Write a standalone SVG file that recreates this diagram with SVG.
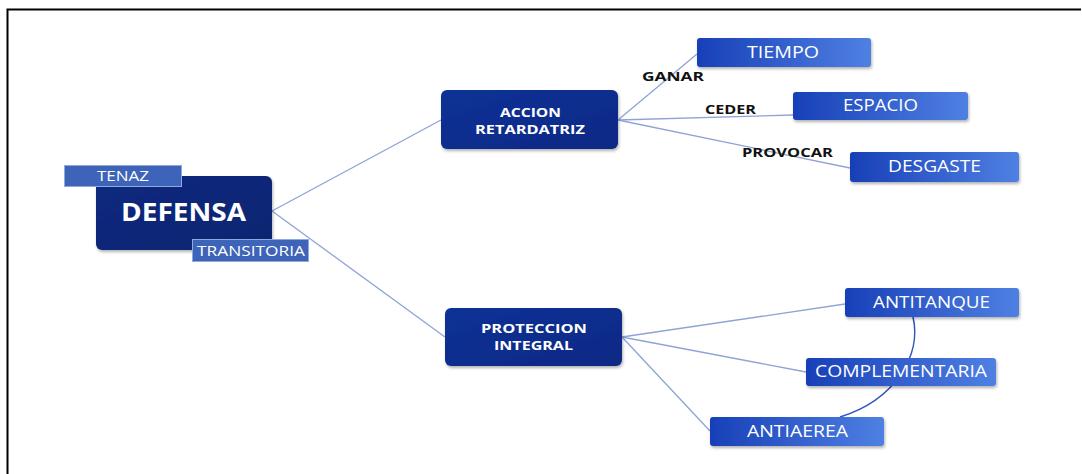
<svg xmlns="http://www.w3.org/2000/svg" width="1082" height="474" viewBox="0 0 1082 474">
<defs>
<linearGradient id="gLeaf" x1="0" y1="0" x2="1" y2="0">
<stop offset="0" stop-color="#1840b8"/>
<stop offset="1" stop-color="#4f80e2"/>
</linearGradient>
<linearGradient id="gMain" x1="0" y1="0" x2="1" y2="1">
<stop offset="0" stop-color="#0e3196"/>
<stop offset="1" stop-color="#0a2a85"/>
</linearGradient>
<linearGradient id="gRoot" x1="0" y1="0" x2="1" y2="1">
<stop offset="0" stop-color="#0c2a80"/>
<stop offset="1" stop-color="#0a2470"/>
</linearGradient>
<filter id="sh" x="-10%" y="-20%" width="130%" height="150%">
<feDropShadow dx="1" dy="2" stdDeviation="1.5" flood-color="#000" flood-opacity="0.3"/>
</filter>
</defs>
<style>
.leaf{fill:url(#gLeaf);filter:url(#sh)}
.main{fill:url(#gMain);filter:url(#sh)}
.tag{fill:#3d64b8;stroke:#8fa9dc;stroke-width:1}
.lt{font-family:"Open Sans","Liberation Sans",sans-serif;font-size:15.5px;font-weight:500;fill:#fff}
.mt{font-family:"Open Sans","Liberation Sans",sans-serif;font-size:12px;font-weight:bold;fill:#fff}
.lab{font-family:"Open Sans","Liberation Sans",sans-serif;font-size:12.5px;font-weight:bold;fill:#111}
.con{stroke:#8ea3d6;stroke-width:1.3;fill:none}
</style>
<rect x="0" y="0" width="1082" height="474" fill="#fff"/>
<path d="M7.5 474 V9.5 H1081" fill="none" stroke="#000" stroke-width="2"/>
<g id="connectors">
<line class="con" x1="272" y1="211" x2="441" y2="120"/>
<line class="con" x1="272" y1="211" x2="445" y2="337"/>
<line class="con" x1="618" y1="120" x2="697" y2="54"/>
<line class="con" x1="618" y1="120" x2="793" y2="115"/>
<line class="con" x1="618" y1="120" x2="850" y2="168"/>
<line class="con" x1="622" y1="337" x2="845" y2="304"/>
<line class="con" x1="622" y1="337" x2="806" y2="372"/>
<line class="con" x1="622" y1="337" x2="710" y2="431"/>
<path d="M913 317 C922 355 895 400 840 417" fill="none" stroke="#2f55b8" stroke-width="1.6"/>
<text class="lab" x="642" y="81" textLength="62" lengthAdjust="spacingAndGlyphs">GANAR</text>
<text class="lab" x="705" y="114" textLength="51" lengthAdjust="spacingAndGlyphs">CEDER</text>
<text class="lab" x="742" y="157" textLength="91" lengthAdjust="spacingAndGlyphs">PROVOCAR</text>
</g>
<g id="defensa">
<rect x="96" y="176" width="176" height="74" rx="6" fill="url(#gRoot)" filter="url(#sh)"/>
<text x="121" y="221" font-family="Open Sans, Liberation Sans, sans-serif" font-size="25" font-weight="bold" fill="#fff" textLength="125" lengthAdjust="spacingAndGlyphs">DEFENSA</text>
</g>
<g id="tenaz">
<rect class="tag" x="64.5" y="165.5" width="117" height="21"/>
<text class="lt" x="97" y="181" style="font-size:14px;font-weight:normal" textLength="52" lengthAdjust="spacingAndGlyphs">TENAZ</text>
</g>
<g id="transitoria">
<rect class="tag" x="192.5" y="239.5" width="116" height="22"/>
<text class="lt" x="197" y="256" style="font-size:14px;font-weight:normal" textLength="108" lengthAdjust="spacingAndGlyphs">TRANSITORIA</text>
</g>
<g id="accion">
<rect class="main" x="441" y="90" width="177" height="59" rx="6"/>
<text class="mt" x="500" y="117" textLength="61" lengthAdjust="spacingAndGlyphs">ACCION</text>
<text class="mt" x="475" y="134" textLength="110" lengthAdjust="spacingAndGlyphs">RETARDATRIZ</text>
</g>
<g id="proteccion">
<rect class="main" x="445" y="308" width="177" height="58" rx="6"/>
<text class="mt" x="481" y="333" textLength="106" lengthAdjust="spacingAndGlyphs">PROTECCION</text>
<text class="mt" x="494" y="350" textLength="79" lengthAdjust="spacingAndGlyphs">INTEGRAL</text>
</g>
<g id="tiempo">
<rect class="leaf" x="697" y="38" width="174" height="29" rx="3"/>
<text class="lt" x="747" y="58" textLength="72" lengthAdjust="spacingAndGlyphs">TIEMPO</text>
</g>
<g id="espacio">
<rect class="leaf" x="793" y="92" width="175" height="28" rx="3"/>
<text class="lt" x="843" y="111" textLength="75" lengthAdjust="spacingAndGlyphs">ESPACIO</text>
</g>
<g id="desgaste">
<rect class="leaf" x="850" y="152" width="169" height="30" rx="3"/>
<text class="lt" x="888" y="172" textLength="93" lengthAdjust="spacingAndGlyphs">DESGASTE</text>
</g>
<g id="antitanque">
<rect class="leaf" x="845" y="288" width="174" height="29" rx="3"/>
<text class="lt" x="873" y="308" textLength="117" lengthAdjust="spacingAndGlyphs">ANTITANQUE</text>
</g>
<g id="complementaria">
<rect class="leaf" x="806" y="358" width="190" height="28" rx="3"/>
<text class="lt" x="815" y="377" textLength="172" lengthAdjust="spacingAndGlyphs">COMPLEMENTARIA</text>
</g>
<g id="antiaerea">
<rect class="leaf" x="710" y="417" width="174" height="29" rx="3"/>
<text class="lt" x="747" y="437" textLength="101" lengthAdjust="spacingAndGlyphs">ANTIAEREA</text>
</g>
</svg>
